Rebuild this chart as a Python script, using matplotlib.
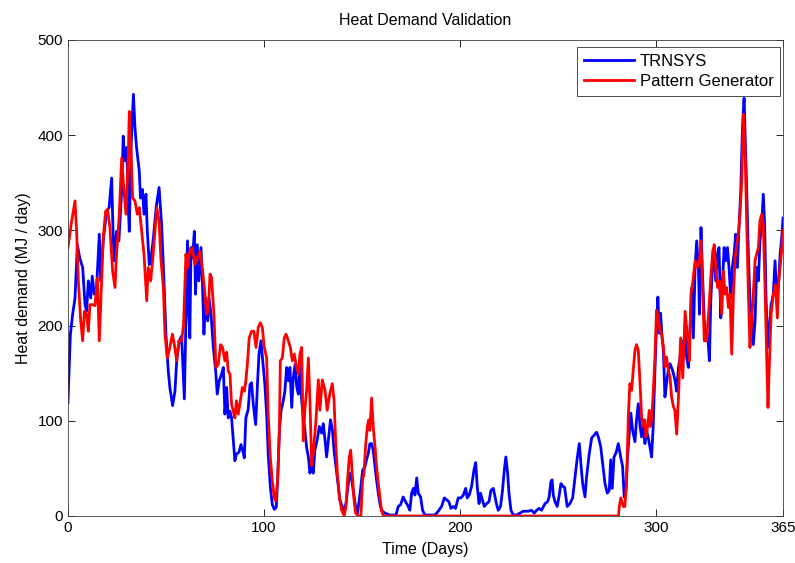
import matplotlib
matplotlib.use("Agg")
import matplotlib.pyplot as plt

plt.rcParams['font.family'] = ['Liberation Sans', 'DejaVu Sans']

title = "Heat Demand Validation"
xlabel = "Time (Days)"
ylabel = "Heat demand (MJ / day)"
series_names = ["TRNSYS", "Pattern Generator"]
xticks = [0, 100, 200, 300, 365]
yticks = [0, 100, 200, 300, 400, 500]

trnsys_days = [0, 1.2, 2.4, 3.6, 4.8, 6, 7.5, 8.7, 9.5, 10.4, 11.6, 12.4, 13.4, 14.6, 16, 16.7, 18, 19.7, 21,
               22.3, 23, 23.6, 24.8, 26, 27.4, 28.2, 29, 30, 30.8, 31.3, 32.2, 33.4, 34.2, 35, 36.4, 37, 38,
               38.8, 39.8, 40.5, 41.5, 42.2, 43.6, 45, 46.5, 47.8, 49, 50, 51.2, 52, 53.4, 54.6, 55.5, 56.8,
               58, 59.4, 60.2, 61, 61.7, 62.2, 62.8, 63.6, 64.5, 65.1, 66, 66.8, 67.9, 68.6, 69.4, 70.2,
               71.3, 72, 73, 74.2, 75.4, 76.2, 77.2, 78.4, 79.3, 80.1, 81, 81.8, 82.7, 83.5, 84.4, 85.2, 86,
               87.3, 88.3, 89.3, 90, 90.8, 92, 92.9, 93.7, 94.6, 95.8, 96.8, 97.5, 98.5, 99.3, 100.5, 101.4,
               102.2, 103.3, 104.3, 105.3, 106.3, 107, 107.9, 108.7, 109.9, 110.7, 111.6, 112.5, 113.3,
               114.2, 115, 115.9, 116.8, 117.6, 118.4, 119.3, 120.1, 121, 121.8, 122.7, 123.5, 124.4, 125.2,
               126, 127.2, 128.3, 129.5, 130.3, 131.2, 132, 132.9, 134, 135, 135.8, 136.8, 138, 138.8, 140,
               141, 141.9, 143.1, 143.9, 144.8, 145.6, 146.8, 147.8, 148.7, 149.5, 150.4, 151.6, 152.4,
               153.3, 154.1, 155, 155.8, 156.7, 157.5, 158.4, 159.2, 160, 161.8, 164.3, 167.4, 168.6, 169.8,
               171.1, 172.3, 173.7, 174.5, 175.4, 176.3, 177.1, 178, 178.8, 180, 181, 182.2, 185, 187.3, 189,
               190.7, 192.1, 193.3, 194.4, 195.5, 196.7, 197.8, 199.2, 200.6, 201.8, 203, 203.8, 204.8, 206,
               207.2, 208.1, 208.9, 209.8, 210.6, 211.5, 212.5, 213.7, 214.9, 215.9, 217.1, 218, 218.8,
               219.6, 220.8, 221.8, 222.7, 223.5, 224.4, 225.1, 226.1, 227.3, 229, 230.7, 232.4, 235, 236.6,
               238, 239.2, 240.4, 241.7, 243.5, 244.8, 245.6, 246.5, 247.1, 247.7, 248.6, 249.7, 250.6,
               251.6, 252.8, 253.5, 254.8, 256.2, 257.6, 258.8, 260, 261, 261.8, 262.7, 263.9, 264.7, 266.1,
               267.3, 268.6, 269.8, 270.7, 271.9, 272.9, 274.1, 275.3, 276.3, 277, 277.8, 278.7, 279.7,
               280.9, 282.1, 283.1, 283.9, 284.8, 285.6, 286.5, 287.3, 288.2, 289.4, 290.2, 291.1, 292,
               292.8, 293.6, 294.5, 295.3, 296.1, 297, 297.9, 298.7, 299.6, 300.4, 301.1, 301.8, 302.5,
               303.2, 303.9, 304.7, 305.5, 306.4, 307.3, 308.6, 309.8, 310.7, 311.6, 312.4, 313.3, 314.1,
               315, 315.8, 316.7, 317.5, 318.4, 319.2, 320.1, 320.9, 321.8, 322.3, 323.1, 324, 324.8, 325.7,
               326.5, 327.4, 328.1, 328.9, 329.8, 330.6, 331.5, 332.3, 333.2, 334, 334.9, 335.7, 336.6,
               337.4, 338.3, 339.1, 340, 340.8, 341.7, 342.5, 343.4, 344.2, 345.1, 345.7, 346.4, 347.3,
               348.1, 349, 349.8, 350.7, 351.5, 352.4, 353.2, 354.1, 354.9, 355.6, 356.3, 357.2, 358, 358.9,
               360, 360.9, 361.7, 362.6, 363.5, 364.3, 365]
trnsys_vals = [119, 190, 212, 229, 285, 271, 261, 222, 215, 247, 229, 252, 233, 240, 296, 247, 289, 320, 324,
               355, 299, 268, 299, 289, 341, 399, 373, 387, 324, 299, 387, 443, 408, 387, 362, 334, 343,
               317, 338, 299, 264, 268, 292, 324, 345, 306, 247, 191, 152, 135, 116, 131, 163, 184,
               189, 123, 205, 289, 212, 187, 282, 271, 299, 233, 285, 247, 282, 247, 191, 229,
               205, 229, 212, 177, 152, 128, 142, 149, 156, 107, 135, 103, 110, 103, 79, 58, 65,
               67, 75, 68, 61, 103, 112, 138, 140, 117, 96, 142, 170, 184, 166, 138, 107,
               65, 30, 12, 7, 9, 37, 89, 110, 121, 131, 156, 142, 156,
               114, 145, 159, 135, 128, 159, 121, 103, 89, 72, 62, 45, 54, 45,
               69, 80, 94, 87, 97, 80, 62, 80, 101, 90, 69, 52, 31, 17, 10,
               6, 13, 34, 45, 38, 27, 10, 3, 17, 31, 48, 52, 59,
               66, 76, 76, 69, 52, 38, 24, 13, 6, 3, 1, 1, 10, 12,
               20, 15, 10, 6, 24, 29, 22, 40, 24, 20, 6, 1, 1, 1, 5,
               10, 19, 17, 15, 8, 10, 8, 19, 19, 22, 29, 19, 22, 31,
               48, 56, 31, 13, 24, 17, 10, 13, 15, 27, 29, 20, 12,
               6, 10, 27, 48, 62, 45, 24, 6, 1, 1, 3, 5, 5, 6,
               3, 6, 8, 6, 13, 15, 20, 36, 38, 22, 15, 10, 20,
               34, 31, 30, 10, 13, 19, 41, 62, 76, 55, 34, 20, 41, 66,
               82, 85, 88, 83, 73, 55, 34, 24, 27, 59, 29, 62, 66,
               76, 62, 52, 20, 27, 62, 87, 108, 90, 78, 101, 118, 94,
               83, 97, 76, 90, 83, 73, 62, 94, 153, 199, 230, 192, 213,
               188, 174, 125, 139, 153, 160, 153, 143, 131, 156, 166, 184, 170,
               194, 166, 156, 198, 240, 187, 261, 289, 261, 212, 303, 247, 205, 187,
               191, 163, 226, 261, 275, 247, 275, 282, 208, 240, 282, 268, 282,
               261, 229, 261, 275, 296, 261, 303, 341, 404, 439, 397, 345, 275,
               226, 212, 180, 205, 261, 247, 289, 306, 338, 306, 229, 177, 198, 222,
               233, 268, 233, 240, 275, 292, 313]

pattern_days = [0, 1.9, 3.6, 4.4, 5.3, 6.5, 7.5, 8.4, 9.5, 10.4, 11.2, 12.4, 13.8, 15, 16, 17.2, 18, 19.2,
                20.2, 21.4, 22.8, 24, 24.8, 26.2, 27.4, 28.6, 29.6, 30.8, 31.3, 32.2, 33, 34.2, 35.4, 36.4,
                37.6, 38.8, 40.2, 41, 42.2, 43.2, 44.4, 45.3, 46.5, 47.5, 48.7, 49.5, 50.7, 52, 53.3, 54.3,
                55.5, 56.6, 58, 59, 60.2, 61, 62.2, 63.4, 64.8, 66, 67.4, 68.5, 69.6, 70.8, 71.6, 72.5, 73.3,
                74.5, 75.5, 76.7, 77.9, 78.9, 80.1, 81, 81.8, 82.7, 83.5, 84.4, 85.2, 86, 86.9, 88, 89, 90,
                90.8, 91.7, 92.5, 93.7, 94.9, 96, 97.1, 98.2, 99.2, 100.2, 101.4, 102.2, 103.3, 104.3, 105.3,
                106, 107, 107.9, 108.4, 109.4, 110.4, 111.3, 112.5, 113.5, 114.5, 115.5, 116.4, 117.6, 118.4,
                119.3, 120.1, 121, 121.8, 122.7, 123.5, 124.4, 125.2, 126.6, 127.8, 128.6, 129.8, 131.2,
                132.3, 133.7, 134.9, 135.8, 136.6, 137.5, 138.5, 139.7, 141, 141.9, 142.7, 143.6, 144.3,
                145.1, 146, 146.8, 148.2, 149.5, 150.4, 151.1, 151.9, 152.8, 153.5, 154.1, 155, 155.8, 156.7,
                157.5, 158.4, 159.2, 160, 161, 281, 281.4, 282.2, 283.4, 284.2, 285.1, 286, 286.8, 287.7,
                288.5, 289.4, 290.2, 291.1, 292, 292.8, 293.6, 294.4, 295, 295.9, 296.7, 297.4, 298, 298.7,
                299.6, 300.4, 301.3, 302.1, 303, 303.9, 304.7, 305.5, 306.4, 307.3, 308.1, 309, 309.8, 310.7,
                311.6, 312.7, 313.8, 315, 316.1, 317.2, 318, 319, 320.1, 321.3, 322.3, 323.1, 324, 324.8, 326,
                327.2, 328.1, 329.1, 329.9, 330.8, 331.6, 332.5, 333.7, 334.5, 335.4, 336.2, 337.1, 337.9,
                338.8, 339.6, 340.5, 341.3, 342.2, 343, 343.9, 344.7, 345.6, 346.4, 347.3, 348.1, 349, 349.8,
                350.7, 351.5, 352.4, 353.2, 354.1, 354.9, 355.8, 356.6, 357.3, 358, 358.9, 360, 361.1, 362.1,
                362.8, 363.8, 364.8, 365]
pattern_vals = [282, 310, 331, 299, 247, 205, 184, 215, 212, 194, 222, 222, 221, 250, 184, 250, 292, 320,
                322, 303, 257, 240, 275, 317, 376, 341, 317, 380, 425, 383, 334, 331, 317, 324,
                299, 275, 226, 261, 247, 268, 299, 324, 310, 268, 240, 191, 166, 177, 191, 180,
                163, 184, 184, 201, 275, 261, 278, 282, 264, 271, 278, 261, 240, 212, 215, 254, 250,
                212, 156, 159, 180, 177, 163, 172, 152, 149, 117, 110, 103, 121, 107, 121, 135, 131,
                142, 163, 187, 194, 194, 177, 198, 203, 198, 177, 166, 107, 61, 37, 19,
                16, 37, 89, 163, 166, 187, 191, 184, 177, 163, 170, 159, 149, 170,
                177, 79, 114, 131, 166, 121, 53, 66, 101, 143, 111, 143, 132,
                111, 129, 139, 122, 80, 45, 20, 6, 0, 10, 38, 62, 69,
                45, 17, 3, 0, 0, 38, 45, 73, 94, 101, 90, 124, 94, 73,
                52, 34, 20, 6, 0, 0, 10, 19, 10, 10, 34, 104, 139, 132,
                153, 174, 180, 174, 139, 104, 94, 101, 83, 94, 111, 94, 104, 129,
                167, 216, 209, 195, 192, 178, 157, 167, 153, 146, 125, 115, 111, 86,
                124, 187, 145, 215, 191, 163, 233, 247, 268, 261, 268, 289, 233, 184, 184,
                219, 250, 278, 285, 257, 240, 247, 212, 257, 233, 240, 219, 233,
                170, 229, 271, 285, 296, 317, 352, 422, 387, 310, 233, 177, 205, 233,
                268, 275, 282, 310, 317, 306, 240, 170, 114, 159, 212, 233, 243, 208,
                247, 268, 292, 300]

fig = plt.figure(figsize=(7.95, 5.63), dpi=100)
ax = fig.add_axes([0.0855, 0.0835, 0.8995, 0.8455])

ax.plot(trnsys_days, trnsys_vals, color=(0, 0, 1), lw=2.0, label=series_names[0])
ax.plot(pattern_days, pattern_vals, color=(1, 0, 0), lw=2.0, label=series_names[1])

ax.set_xlim(0, 365)
ax.set_ylim(0, 500)
ax.set_xticks(xticks)
ax.set_yticks(yticks)
ax.tick_params(direction='in', top=True, right=True, length=5, width=0.6, labelsize=11, colors='black')
for s in ax.spines.values():
    s.set_linewidth(0.6)
    s.set_color('0.25')

ax.set_title(title, fontsize=11.5, pad=11)
ax.set_xlabel(xlabel, fontsize=11.5, labelpad=5)
ax.set_ylabel(ylabel, fontsize=11.5, labelpad=5)

leg = ax.legend(loc='upper right', bbox_to_anchor=(0.9958, 0.985), borderaxespad=0,
                fancybox=False, framealpha=1, edgecolor='0.3', fontsize=12,
                handlelength=3.0, handletextpad=0.35, borderpad=0.4, labelspacing=0.32)
leg.get_frame().set_linewidth(0.7)

fig.savefig("out.png", dpi=100)
